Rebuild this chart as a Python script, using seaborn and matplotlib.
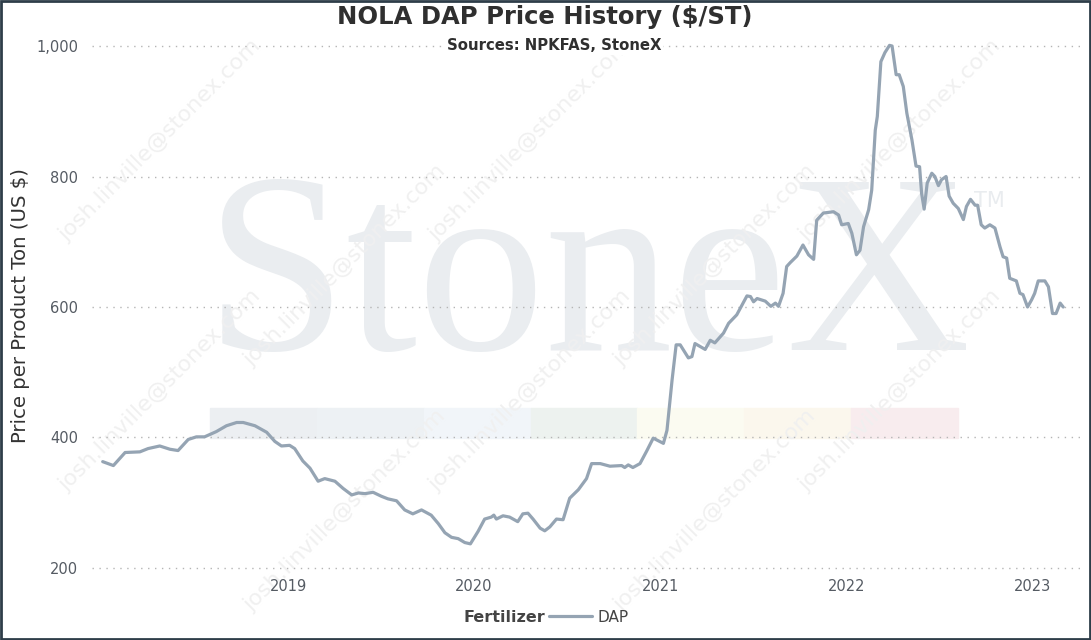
import pandas as pd
import seaborn as sns
import matplotlib.pyplot as plt
import matplotlib.dates as mdates
from matplotlib.patches import Rectangle
from matplotlib.ticker import FuncFormatter

# NOLA DAP weekly price ($/short ton)
dates = ['2018-01-02', '2018-01-23', '2018-02-15', '2018-03-16', '2018-04-01', '2018-04-24',
         '2018-05-14', '2018-05-30', '2018-06-19', '2018-07-05', '2018-07-21', '2018-08-13',
         '2018-09-02', '2018-09-22', '2018-10-05', '2018-10-28', '2018-11-20', '2018-12-06',
         '2018-12-19', '2019-01-04', '2019-01-14', '2019-01-30', '2019-02-13', '2019-03-01',
         '2019-03-14', '2019-04-03', '2019-04-19', '2019-05-06', '2019-05-19', '2019-06-01',
         '2019-06-17', '2019-07-03', '2019-07-16', '2019-08-02', '2019-08-18', '2019-09-03',
         '2019-09-20', '2019-10-09', '2019-10-23', '2019-11-05', '2019-11-18', '2019-12-01',
         '2019-12-14', '2019-12-25', '2020-01-09', '2020-01-22', '2020-02-04', '2020-02-09',
         '2020-02-14', '2020-02-27', '2020-03-11', '2020-03-27', '2020-04-06', '2020-04-16',
         '2020-04-26', '2020-05-10', '2020-05-19', '2020-05-29', '2020-06-11', '2020-06-24',
         '2020-07-07', '2020-07-24', '2020-08-09', '2020-08-19', '2020-09-05', '2020-09-24',
         '2020-10-17', '2020-10-23', '2020-10-30', '2020-11-08', '2020-11-22', '2020-12-05',
         '2020-12-18', '2021-01-07', '2021-01-14', '2021-01-24', '2021-02-01', '2021-02-09',
         '2021-02-25', '2021-03-04', '2021-03-10', '2021-03-30', '2021-04-09', '2021-04-18',
         '2021-05-05', '2021-05-15', '2021-05-31', '2021-06-20', '2021-06-27', '2021-07-03',
         '2021-07-10', '2021-07-26', '2021-08-06', '2021-08-15', '2021-08-21', '2021-08-30',
         '2021-09-06', '2021-09-13', '2021-09-26', '2021-10-08', '2021-10-19', '2021-10-29',
         '2021-11-04', '2021-11-17', '2021-12-07', '2021-12-17', '2021-12-23', '2022-01-05',
         '2022-01-12', '2022-01-21', '2022-01-28', '2022-02-04', '2022-02-14', '2022-02-20',
         '2022-02-27', '2022-03-03', '2022-03-10', '2022-03-18', '2022-03-27', '2022-04-01',
         '2022-04-09', '2022-04-15', '2022-04-23', '2022-04-30', '2022-05-10', '2022-05-18',
         '2022-05-25', '2022-05-29', '2022-06-03', '2022-06-09', '2022-06-18', '2022-06-24',
         '2022-07-01', '2022-07-07', '2022-07-16', '2022-07-22', '2022-07-30', '2022-08-09',
         '2022-08-19', '2022-08-25', '2022-09-02', '2022-09-11', '2022-09-16', '2022-09-23',
         '2022-09-30', '2022-10-10', '2022-10-20', '2022-10-30', '2022-11-05', '2022-11-12',
         '2022-11-18', '2022-12-01', '2022-12-08', '2022-12-14', '2022-12-23', '2022-12-31',
         '2023-01-06', '2023-01-13', '2023-01-26', '2023-02-02', '2023-02-10', '2023-02-17',
         '2023-02-25', '2023-03-03']
prices = [363, 357, 377, 378, 383, 387,
          382, 380, 397, 401, 401, 409,
          418, 423, 423, 418, 408, 394,
          387, 388, 383, 364, 353, 333,
          337, 333, 322, 312, 315, 314,
          316, 310, 306, 303, 289, 283,
          289, 281, 268, 254, 247, 245,
          239, 237, 256, 275, 278, 281,
          275, 280, 278, 271, 283, 284,
          275, 261, 257, 263, 275, 274,
          307, 320, 337, 360, 360, 356,
          357, 354, 358, 354, 360, 379,
          399, 391, 411, 488, 542, 542,
          522, 524, 544, 535, 549, 545,
          560, 575, 588, 617, 616, 608,
          613, 609, 601, 606, 601, 621,
          662, 668, 678, 695, 680, 673,
          733, 744, 746, 741, 726, 728,
          713, 680, 687, 723, 749, 779,
          871, 892, 976, 990, 1001, 1000,
          956, 956, 938, 897, 856, 816,
          815, 774, 750, 790, 805, 800,
          786, 795, 800, 770, 759, 751,
          734, 754, 765, 756, 756, 726,
          721, 726, 721, 692, 677, 675,
          644, 640, 621, 619, 600, 611,
          621, 640, 640, 631, 590, 590,
          606, 600]
fertilizer = ['DAP'] * len(prices)

year_ticks = ['2019-01-01', '2020-01-01', '2021-01-01', '2022-01-01', '2023-01-01']
band_colors = ['#ECEFF2', '#EDF1F4', '#F1F5F9', '#EDF2EF', '#FBFBF1', '#FBF7ED', '#F8ECEE']

line_color = '#95A4B3'

df = pd.DataFrame({'Date': pd.to_datetime(dates), 'Price': prices, 'Fertilizer': fertilizer})

sns.set_theme(style='white')
plt.rcParams['font.family'] = ['DejaVu Sans']

W, H = 1091, 640
fig = plt.figure(figsize=(W / 100, H / 100), dpi=100)
ax = fig.add_axes([92 / W, 1 - 571 / H, (1080 - 92) / W, (571 - 40) / H])
ax.set_facecolor('none')

# background watermark
fig.text(205 / W, 1 - 350 / H, 'StoneX', family='Liberation Serif', fontsize=184,
         color='#EAEDF0', ha='left', va='baseline', zorder=-5)
fig.text(974 / W, 1 - 207 / H, 'TM', fontsize=15, color='#E9ECEF', zorder=-5)
bw = (958 - 210) / len(band_colors)
for i, c in enumerate(band_colors):
    fig.patches.append(Rectangle(((210 + i * bw) / W, 1 - 438 / H), bw / W, 30 / H,
                                 transform=fig.transFigure, color=c, zorder=-4))
for cx, cy in [(160, 140), (530, 140), (900, 140), (345, 265), (715, 265),
               (160, 390), (530, 390), (900, 390), (345, 510), (715, 510)]:
    fig.text(cx / W, 1 - cy / H, 'josh.linville@stonex.com', rotation=45, fontsize=16,
             color='#F0F0F0', ha='center', va='center', zorder=-3)

sns.lineplot(data=df, x='Date', y='Price', hue='Fertilizer', palette={'DAP': line_color},
             linewidth=2.3, ax=ax, legend=False)

ax.set_xlim(pd.Timestamp('2017-12-12'), pd.Timestamp('2023-04-05'))
ax.set_ylim(195.4, 1009.2)
ax.set_yticks([200, 400, 600, 800, 1000])
ax.yaxis.set_major_formatter(FuncFormatter(lambda v, p: f'{int(v):,}'))
ax.set_xticks(pd.to_datetime(year_ticks))
ax.xaxis.set_major_formatter(mdates.DateFormatter('%Y'))
ax.grid(axis='y', linestyle=(0, (1, 4)), color='#B5B5B5', linewidth=1)
ax.grid(axis='x', visible=False)
for s in ax.spines.values():
    s.set_visible(False)
ax.tick_params(axis='both', length=0, labelsize=10.5, labelcolor='#555B63')
ax.tick_params(axis='y', pad=10)
ax.tick_params(axis='x', pad=6)
ax.set_xlabel('')
ax.set_ylabel('Price per Product Ton (US $)', fontsize=14.2, color='#333333')
ax.yaxis.set_label_coords((30 - 92) / (1080 - 92), 0.5)

fig.text(545 / W, 1 - 17 / H, 'NOLA DAP Price History ($/ST)', fontsize=17.5,
         weight='bold', color='#2F2F2F', ha='center', va='center')
fig.text(554 / W, 1 - 46 / H, 'Sources: NPKFAS, StoneX', fontsize=10.7, weight='bold',
         color='#2F2F2F', ha='center', va='center',
         bbox=dict(facecolor='white', edgecolor='none', pad=1))

# legend: bold group name then the entry
fig.text(545 / W, 1 - 617 / H, 'Fertilizer', fontsize=11.5, weight='bold', color='#444444',
         ha='right', va='center')
handle = plt.Line2D([], [], color=line_color, linewidth=2.3)
fig.legend([handle], ['DAP'], loc='center left', bbox_to_anchor=(549 / W, 1 - 617 / H),
           frameon=False, fontsize=11, handlelength=2.8, handletextpad=0.4,
           labelcolor='#444444', borderaxespad=0, borderpad=0)

fig.patches.append(Rectangle((0.001, 0.001), 0.998, 0.997, transform=fig.transFigure,
                             fill=False, edgecolor='#2E3D49', linewidth=2, zorder=10))

fig.savefig('out.png', dpi=100)
